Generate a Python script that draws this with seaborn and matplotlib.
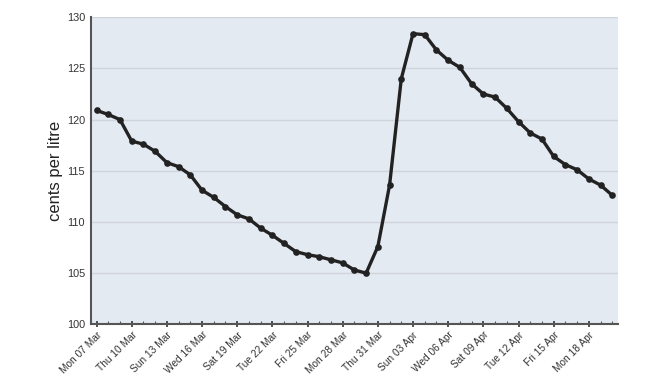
import pandas as pd
import numpy as np
import matplotlib
matplotlib.use('Agg')
import matplotlib.pyplot as plt
import seaborn as sns

# daily prices, 07 Mar - 20 Apr
dates = pd.date_range('2011-03-07', '2011-04-20', freq='D')
prices = [120.9, 120.5, 120.0, 117.9, 117.6, 116.9, 115.8, 115.4, 114.6, 113.1,
          112.4, 111.5, 110.7, 110.3, 109.4, 108.7, 107.9, 107.1, 106.8, 106.6,
          106.3, 106.0, 105.3, 105.0, 107.6, 113.6, 124.0, 128.4, 128.3, 126.8,
          125.8, 125.1, 123.5, 122.5, 122.2, 121.1, 119.8, 118.7, 118.1, 116.4,
          115.6, 115.1, 114.2, 113.6, 112.6]
y_ticks = [100, 105, 110, 115, 120, 125, 130]

df = pd.DataFrame({'day': np.arange(len(dates)), 'price': prices})
tick_pos = list(range(0, len(dates), 3))
tick_labels = [dates[i].strftime('%a %d %b') for i in tick_pos]

sns.set_style('white')
plt.rcParams['font.family'] = ['Liberation Sans', 'DejaVu Sans']

fig = plt.figure(figsize=(6.5, 3.84), dpi=100)
ax = fig.add_axes([0.1395, 0.1555, 0.8115, 0.7995])
ax.set_facecolor('#e4eaf2')

sns.lineplot(data=df, x='day', y='price', ax=ax, color='#222222', linewidth=2.4,
             marker='o', markersize=4.8, markeredgewidth=0, zorder=3)

ax.set_xlim(-0.5, 44.5)
ax.set_ylim(100, 130)
ax.set_yticks(y_ticks)
ax.set_yticklabels([str(v) for v in y_ticks], fontsize=7.8, color='#333333')
ax.set_xticks(tick_pos)
ax.set_xticks(range(len(dates)), minor=True)
ax.set_xticklabels(tick_labels, rotation=45, ha='right', rotation_mode='anchor',
                   fontsize=7.3, color='#333333')
ax.grid(axis='y', color='#d0d5dc', linewidth=1)
ax.set_axisbelow(True)

for s in ['top', 'right']:
    ax.spines[s].set_visible(False)
for s in ['left', 'bottom']:
    ax.spines[s].set_color('#555555')
    ax.spines[s].set_linewidth(1.5)

ax.tick_params(axis='y', direction='out', length=3, width=1, color='#333333', pad=1)
ax.tick_params(axis='x', which='major', direction='inout', length=4, width=1.2,
               color='#333333', pad=2, bottom=True)
ax.tick_params(axis='x', which='minor', direction='in', length=2, width=0.8,
               color='#555555', bottom=True)

ax.set_xlabel('')
ax.set_ylabel('cents per litre', fontsize=12, color='#222222', labelpad=3)

fig.savefig('out.png', dpi=100)
